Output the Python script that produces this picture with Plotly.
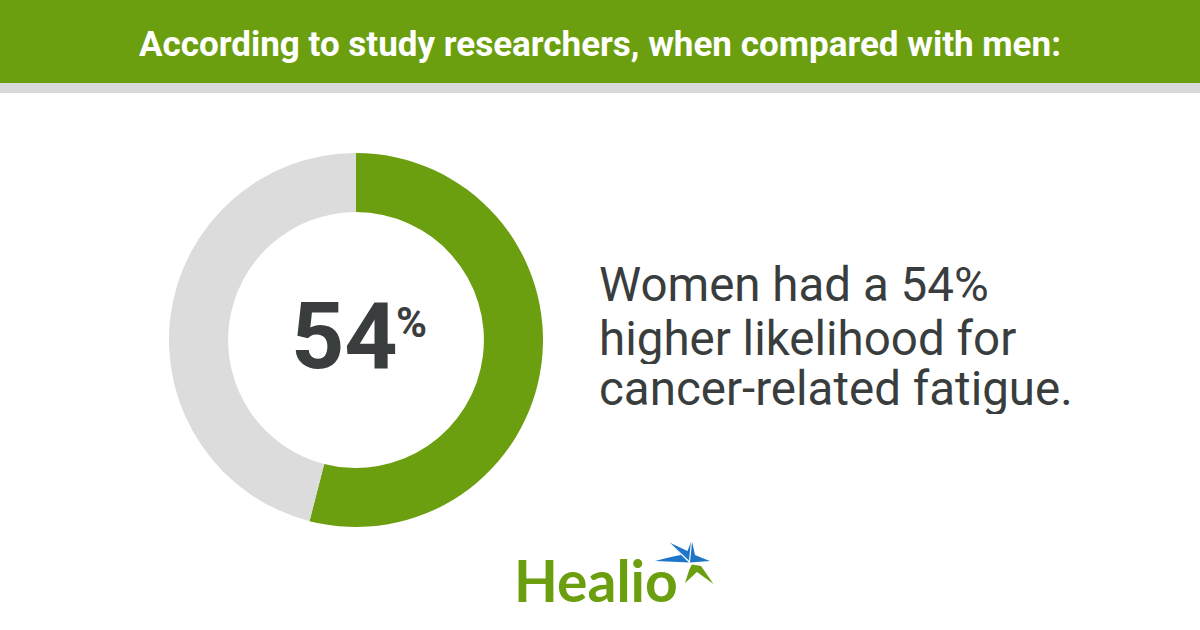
import plotly.graph_objects as go

W, H = 1200, 630

# ---- data ----
slice_labels = ["Women: higher likelihood", "Remainder"]
slice_values = [54, 46]
headline_value = "54"
title_text = "According to study researchers, when compared with men:"
body_lines = ["Women had a 54%", "higher likelihood for", "cancer-related fatigue."]
brand = "Healio"

GREEN = "#6c9f10"
GREY = "#dcdcdc"
DARK = "#393d3e"
BLUE = "#1e76c8"

def px(x):
    return x / W

def py(y):
    return 1 - y / H

def pt(p):
    return f"{px(p[0]):.5f},{py(p[1]):.5f}"

fig = go.Figure()

fig.add_trace(go.Pie(
    labels=slice_labels,
    values=slice_values,
    hole=0.684,
    sort=False,
    direction="clockwise",
    rotation=0,
    textinfo="none",
    hoverinfo="label+value",
    marker=dict(colors=[GREEN, GREY], line=dict(width=0)),
    domain=dict(x=[px(169), px(543)], y=[py(527), py(153)]),
    showlegend=False,
))

shapes = [
    dict(type="rect", xref="paper", yref="paper", x0=0, x1=1, y0=py(83), y1=1,
         fillcolor=GREEN, line=dict(width=0), layer="below"),
    dict(type="rect", xref="paper", yref="paper", x0=0, x1=1, y0=py(93), y1=py(83),
         fillcolor="#d9d9d9", line=dict(width=0), layer="below"),
]

# logo star (spiky blue upper part, green lower part)
L, TL, T, R, C = (655, 561), (668.3, 542), (691.7, 540), (710, 561), (690, 562.5)
blue_path = (f"M {pt(L)} Q {pt((674, 556))} {pt((681, 555))} L {pt(TL)} "
             f"L {pt((687.5, 551))} L {pt(T)} L {pt((695, 555))} "
             f"Q {pt((702, 558))} {pt(R)} L {pt(C)} Z")
shapes.append(dict(type="path", xref="paper", yref="paper", path=blue_path,
                   fillcolor=BLUE, line=dict(width=0)))
green_pts = [(692, 564.5), (701, 566), (713.5, 584), (697, 572), (685, 583), (689.5, 569)]
green_path = "M " + " L ".join(pt(p) for p in green_pts) + " Z"
shapes.append(dict(type="path", xref="paper", yref="paper", path=green_path,
                   fillcolor=GREEN, line=dict(width=0)))
for a, b in [(TL, C), (T, (689, 566))]:
    shapes.append(dict(type="line", xref="paper", yref="paper",
                       x0=px(a[0]), y0=py(a[1]), x1=px(b[0]), y1=py(b[1]),
                       line=dict(color="white", width=1.2)))

annotations = [
    dict(text=f"<b>{title_text}</b>", x=0.5, y=py(45), xref="paper", yref="paper",
         xanchor="center", yanchor="middle", showarrow=False,
         font=dict(family="Roboto", size=35, color="white")),
    dict(text=f"<b>{headline_value}</b>", x=px(344), y=py(336), xref="paper", yref="paper",
         xanchor="center", yanchor="middle", showarrow=False,
         font=dict(family="Roboto", size=93, color=DARK)),
    dict(text="<b>%</b>", x=px(411), y=py(322), xref="paper", yref="paper",
         xanchor="center", yanchor="middle", showarrow=False,
         font=dict(family="Roboto", size=42, color=DARK)),
    dict(text=f"<b>{brand}</b>", x=px(512), y=py(580), xref="paper", yref="paper",
         xanchor="left", yanchor="middle", showarrow=False,
         font=dict(family="Lato", size=57, color=GREEN)),
]
baselines = [302, 355, 405]
for line, b in zip(body_lines, baselines):
    annotations.append(dict(text=line, x=px(598), y=py(b - 17), xref="paper", yref="paper",
                            xanchor="left", yanchor="middle", showarrow=False,
                            height=51, valign="middle", borderpad=0,
                            font=dict(family="Roboto", size=47.5, color=DARK)))

fig.update_layout(
    width=W, height=H,
    margin=dict(l=0, r=0, t=0, b=0),
    paper_bgcolor="white", plot_bgcolor="white",
    shapes=shapes, annotations=annotations,
)

fig.write_html("out.html", config={"displayModeBar": False},
               post_script="document.body.style.margin='0';document.body.style.padding='0';")
